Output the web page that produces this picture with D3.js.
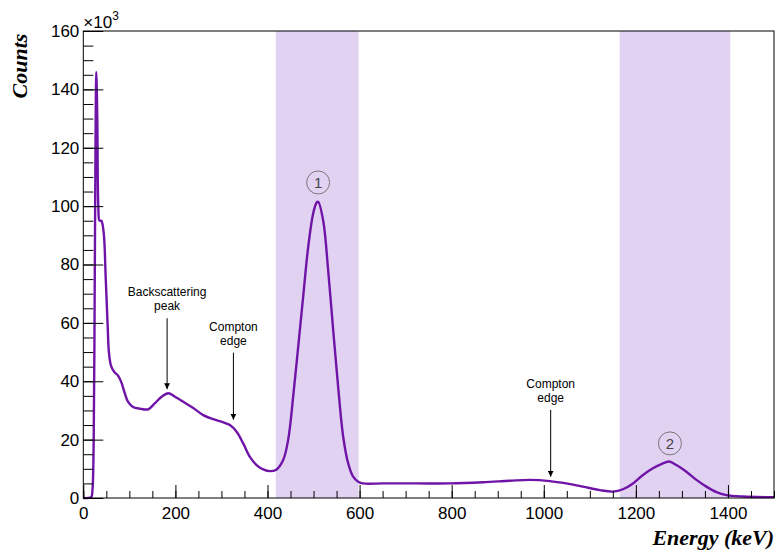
<!DOCTYPE html>
<html>
<head>
<meta charset="utf-8">
<script src="https://cdn.jsdelivr.net/npm/d3@7"></script>
<style>
  html, body { margin: 0; padding: 0; background: #fff; }
  svg { display: block; }
</style>
</head>
<body>
<svg id="chart" width="777" height="552"></svg>
<script>
// Gamma spectrum: energy (keV) vs counts (in units of 10^3)
const energy = [0, 10, 17.4, 20, 22.6, 24.7, 26.5, 28.2, 30.4, 32.6, 35.2, 39.1, 44.3, 48.6, 53, 55.8, 60.8, 68.2, 75.3, 82.5, 89.9, 97, 107.9, 123, 141, 155.6, 170.2, 184.5, 199, 217, 238.8, 260.5, 282.2, 303.9, 318.4, 333, 347.3, 361.8, 376.4, 390.7, 405.3, 419.8, 434.1, 445, 455.8, 466.7, 477.5, 488.4, 499.2, 506.6, 510, 521, 531.8, 542.7, 553.5, 564.4, 575.2, 586, 597, 607.8, 651.2, 723.7, 796, 868, 926, 969.6, 1013, 1049, 1085, 1121.6, 1150.4, 1172, 1193.8, 1215.5, 1237, 1255.5, 1272, 1288, 1309.7, 1331.5, 1353, 1375, 1396.6, 1432.6, 1483.4, 1500];
const counts = [0, 0, 0.3, 3, 20, 70, 120, 146, 130, 100, 95, 95, 90.8, 75.7, 58.6, 49.6, 45, 43, 42, 39.7, 36, 33, 31.2, 30.6, 30.4, 32.5, 34.7, 35.9, 34.7, 33, 30.8, 28.4, 27, 25.9, 25, 22.7, 18.7, 14.1, 11.3, 9.8, 9.2, 9.8, 13, 20, 34.7, 51.8, 69, 86, 97.5, 101.2, 101.5, 95, 78, 57.5, 38, 21, 11.9, 7.3, 5.6, 5.0, 5.0, 5.0, 5.0, 5.4, 5.9, 6.2, 5.8, 5.0, 3.9, 2.7, 2.2, 3.0, 5.0, 7.9, 10.2, 11.6, 12.5, 11.3, 9.0, 6.2, 3.9, 2.0, 1.0, 0.5, 0.3, 0.3];

// Shaded photopeak windows (keV)
const windowStart = [418, 1165];
const windowEnd = [598, 1405];

// Tick values
const xMajorTicks = [0, 200, 400, 600, 800, 1000, 1200, 1400];
const yMajorTicks = [0, 20, 40, 60, 80, 100, 120, 140, 160];

// Annotations: label lines, energy of the arrow, arrow top/bottom in counts
const noteLines = [["Backscattering", "peak"], ["Compton", "edge"], ["Compton", "edge"]];
const noteEnergy = [182, 326, 1015];
const noteTop = [61.6, 49.8, 30.2];
const noteTip = [37.3, 26.8, 7.3];

// Numbered photopeak markers
const peakLabel = ["1", "2"];
const peakEnergy = [510, 1274];
const peakCount = [108.1, 18.7];

const svg = d3.select("#chart");
const plotL = 83.3, plotT = 31, plotR = 774, plotB = 498;

const x = d3.scaleLinear().domain([0, 1500]).range([plotL, plotR]);
const y = d3.scaleLinear().domain([0, 160]).range([plotB, plotT]);

const sans = "'Liberation Sans', Arial, sans-serif";
const serif = "'Liberation Serif', 'Times New Roman', serif";

// photopeak windows
svg.append("g").selectAll("rect")
  .data(windowStart.map((s, i) => [s, windowEnd[i]]))
  .join("rect")
  .attr("x", d => x(d[0]))
  .attr("y", plotT)
  .attr("width", d => x(d[1]) - x(d[0]))
  .attr("height", plotB - plotT)
  .attr("fill", "#e1d2f2");

// spectrum line
const line = d3.line()
  .x((d, i) => x(energy[i]))
  .y(d => y(Math.max(0, d)))
  .curve(d3.curveCatmullRom.alpha(0.5));

svg.append("path")
  .datum(counts)
  .attr("d", line)
  .attr("fill", "none")
  .attr("stroke", "#7014a8")
  .attr("stroke-width", 2.4)
  .attr("stroke-linejoin", "round");

// axes
const xAxisMinor = d3.axisBottom(x)
  .tickValues(d3.range(0, 1501, 50))
  .tickSizeInner(-7).tickSizeOuter(0).tickFormat("");
svg.append("g").attr("transform", `translate(0,${plotB})`).call(xAxisMinor)
  .call(g => g.select(".domain").remove());

const xAxis = d3.axisBottom(x)
  .tickValues(xMajorTicks)
  .tickSizeInner(-13).tickSizeOuter(0).tickPadding(9)
  .tickFormat(d3.format("d"));
svg.append("g").attr("transform", `translate(0,${plotB})`).call(xAxis)
  .call(g => g.select(".domain").remove())
  .call(g => g.selectAll("text").attr("font-size", 17).attr("font-family", sans).attr("fill", "#000"));

const yAxisMinor = d3.axisLeft(y)
  .tickValues(d3.range(0, 161, 5))
  .tickSizeInner(-10).tickSizeOuter(0).tickFormat("");
svg.append("g").attr("transform", `translate(${plotL},0)`).call(yAxisMinor)
  .call(g => g.select(".domain").remove());

const yAxis = d3.axisLeft(y)
  .tickValues(yMajorTicks)
  .tickSizeInner(-20).tickSizeOuter(0).tickPadding(4)
  .tickFormat(d3.format("d"));
svg.append("g").attr("transform", `translate(${plotL},0)`).call(yAxis)
  .call(g => g.select(".domain").remove())
  .call(g => g.selectAll("text").attr("font-size", 17).attr("font-family", sans).attr("fill", "#000"));

svg.selectAll(".tick line").attr("stroke", "#000").attr("stroke-width", 1);

// frame
svg.append("rect")
  .attr("x", plotL).attr("y", plotT)
  .attr("width", plotR - plotL).attr("height", plotB - plotT)
  .attr("fill", "none").attr("stroke", "#000").attr("stroke-width", 1);

// exponent label
const expo = svg.append("text")
  .attr("x", plotL).attr("y", 28)
  .attr("font-family", sans).attr("font-size", 17).attr("fill", "#000");
expo.append("tspan").text("×10");
expo.append("tspan").attr("dy", -8).attr("font-size", 12).text("3");

// axis titles
svg.append("text")
  .attr("transform", `translate(27,${66}) rotate(-90)`)
  .attr("text-anchor", "middle")
  .attr("font-family", serif).attr("font-weight", "bold").attr("font-style", "italic")
  .attr("font-size", 22).attr("fill", "#000")
  .text("Counts");

svg.append("text")
  .attr("x", plotR).attr("y", 545)
  .attr("text-anchor", "end")
  .attr("font-family", serif).attr("font-weight", "bold").attr("font-style", "italic")
  .attr("font-size", 22).attr("fill", "#000")
  .text("Energy (keV)");

// annotation arrows
svg.append("defs").append("marker")
  .attr("id", "head")
  .attr("viewBox", "0 0 10 10")
  .attr("refX", 10).attr("refY", 5)
  .attr("markerWidth", 6).attr("markerHeight", 6)
  .attr("markerUnits", "userSpaceOnUse")
  .attr("orient", "auto")
  .append("path").attr("d", "M0,0 L10,5 L0,10 Z").attr("fill", "#000");

const notes = svg.append("g").selectAll("g")
  .data(noteLines.map((lines, i) => ({ lines, e: noteEnergy[i], t: noteTop[i], tip: noteTip[i] })))
  .join("g");

notes.append("line")
  .attr("x1", d => x(d.e)).attr("x2", d => x(d.e))
  .attr("y1", d => y(d.t)).attr("y2", d => y(d.tip))
  .attr("stroke", "#000").attr("stroke-width", 1)
  .attr("marker-end", "url(#head)");

notes.append("text")
  .attr("x", d => x(d.e))
  .attr("y", d => y(d.t) - 22)
  .attr("text-anchor", "middle")
  .attr("font-family", sans).attr("font-size", 12).attr("fill", "#000")
  .selectAll("tspan")
  .data(d => d.lines.map(s => ({ s, xe: x(d.e) })))
  .join("tspan")
  .attr("x", d => d.xe)
  .attr("dy", (d, i) => i === 0 ? 0 : 14)
  .text(d => d.s);

// numbered peak markers
const marks = svg.append("g").selectAll("g")
  .data(peakLabel.map((l, i) => ({ l, e: peakEnergy[i], c: peakCount[i] })))
  .join("g")
  .attr("transform", d => `translate(${x(d.e)},${y(d.c)})`);

marks.append("circle")
  .attr("r", 11.5)
  .attr("fill", "none")
  .attr("stroke", "#777").attr("stroke-width", 1);

marks.append("text")
  .attr("text-anchor", "middle")
  .attr("dy", "0.36em")
  .attr("font-family", sans).attr("font-size", 15).attr("fill", "#444")
  .text(d => d.l);
</script>
</body>
</html>
